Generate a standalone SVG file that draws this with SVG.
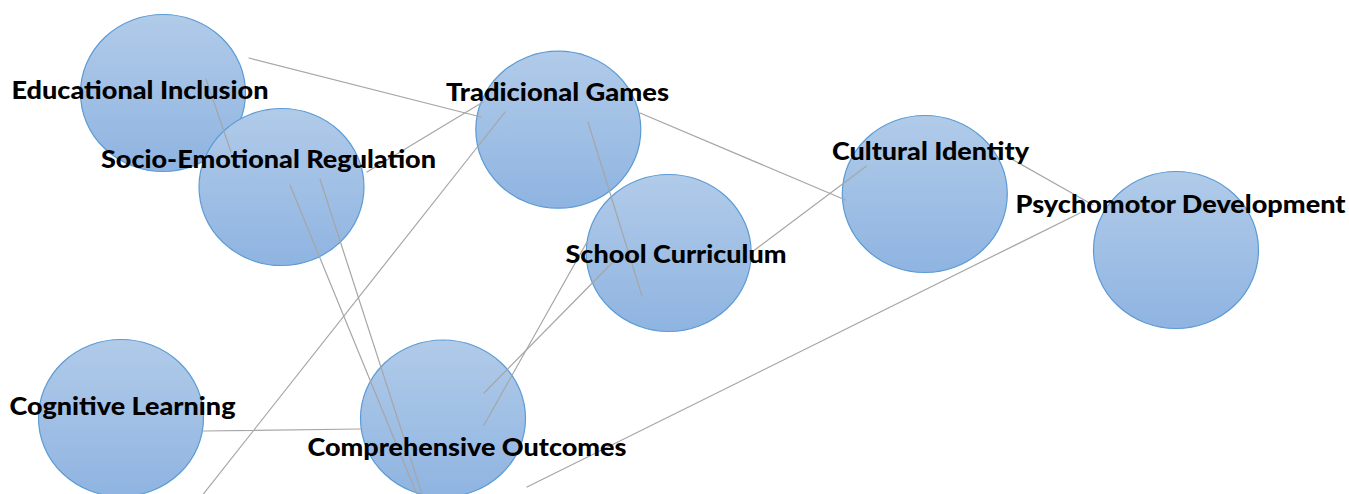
<svg xmlns="http://www.w3.org/2000/svg" width="1349" height="494" viewBox="0 0 1349 494">
  <defs>
    <linearGradient id="bubbleFill" x1="0" y1="0" x2="0" y2="1">
      <stop offset="0" stop-color="#b1cbe9"/>
      <stop offset="1" stop-color="#8fb4e1"/>
    </linearGradient>
    <style>
      .bubble { fill: url(#bubbleFill); stroke: #5b9bd5; stroke-width: 1.2; }
      .label { font-family: "Lato", "Liberation Sans", sans-serif; font-weight: 900; font-size: 25px; fill: #000; }
      .link { stroke: #a6a6a6; stroke-width: 1.2; fill: none; stroke-linecap: round; }
    </style>
  </defs>
  <rect width="1349" height="494" fill="#ffffff"/>

  <!-- node bubbles -->
  <g id="node-educational-inclusion"><ellipse class="bubble" cx="163" cy="93" rx="82.5" ry="78.5"/></g>
  <g id="node-socio-emotional-regulation"><ellipse class="bubble" cx="281.5" cy="187" rx="82.5" ry="78.5"/></g>
  <g id="node-tradicional-games"><ellipse class="bubble" cx="558.3" cy="129.7" rx="82.5" ry="78.5"/></g>
  <g id="node-school-curriculum"><ellipse class="bubble" cx="668.7" cy="253" rx="82.5" ry="78.5"/></g>
  <g id="node-cultural-identity"><ellipse class="bubble" cx="924.8" cy="194" rx="82.5" ry="78.5"/></g>
  <g id="node-psychomotor-development"><ellipse class="bubble" cx="1176" cy="250" rx="82.5" ry="78.5"/></g>
  <g id="node-cognitive-learning"><ellipse class="bubble" cx="121" cy="418" rx="82.5" ry="78.5"/></g>
  <g id="node-comprehensive-outcomes"><ellipse class="bubble" cx="443" cy="418.5" rx="82.5" ry="78.5"/></g>

  <!-- connectors: drawn over the bubbles, under the labels -->
  <g id="connectors">
    <line class="link" x1="249" y1="58" x2="481" y2="117"/>
    <line class="link" x1="367" y1="172" x2="483" y2="102"/>
    <line class="link" x1="505" y1="112" x2="201" y2="497"/>
    <line class="link" x1="588" y1="122" x2="642" y2="296"/>
    <line class="link" x1="640" y1="113" x2="845.5" y2="200"/>
    <line class="link" x1="752" y1="252" x2="866.5" y2="166"/>
    <line class="link" x1="1008" y1="157" x2="1093" y2="205"/>
    <line class="link" x1="1080" y1="213" x2="527" y2="487"/>
    <line class="link" x1="203" y1="431" x2="361" y2="429"/>
    <line class="link" x1="290" y1="185" x2="418" y2="497"/>
    <line class="link" x1="320" y1="179" x2="423" y2="497"/>
    <line class="link" x1="206" y1="79" x2="231" y2="152"/>
    <line class="link" x1="587" y1="242" x2="484" y2="425"/>
    <line class="link" x1="612" y1="263" x2="484" y2="393"/>
  </g>

  <!-- node labels -->
  <g id="labels">
    <text id="label-educational-inclusion" class="label" x="11.5" y="99" textLength="257" lengthAdjust="spacingAndGlyphs">Educational Inclusion</text>
    <text id="label-socio-emotional-regulation" class="label" x="101" y="168" textLength="335" lengthAdjust="spacingAndGlyphs">Socio-Emotional Regulation</text>
    <text id="label-tradicional-games" class="label" x="446" y="101" textLength="223" lengthAdjust="spacingAndGlyphs">Tradicional Games</text>
    <text id="label-school-curriculum" class="label" x="565.5" y="263" textLength="221" lengthAdjust="spacingAndGlyphs">School Curriculum</text>
    <text id="label-cultural-identity" class="label" x="832" y="160" textLength="197" lengthAdjust="spacingAndGlyphs">Cultural Identity</text>
    <text id="label-psychomotor-development" class="label" x="1015.5" y="213" textLength="330" lengthAdjust="spacingAndGlyphs">Psychomotor Development</text>
    <text id="label-cognitive-learning" class="label" x="9.5" y="415" textLength="226" lengthAdjust="spacingAndGlyphs">Cognitive Learning</text>
    <text id="label-comprehensive-outcomes" class="label" x="307.5" y="456" textLength="319" lengthAdjust="spacingAndGlyphs">Comprehensive Outcomes</text>
  </g>
</svg>
